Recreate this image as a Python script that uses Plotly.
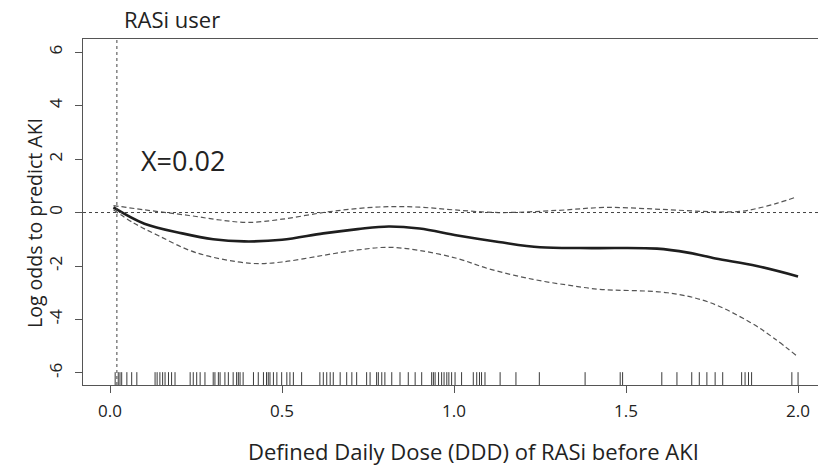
import plotly.graph_objects as go

# ---- data ----
fit_x = [0.01, 0.1, 0.21, 0.3, 0.39, 0.5, 0.62, 0.72, 0.81, 0.9, 1.01, 1.13, 1.25, 1.4, 1.59, 1.68, 1.76, 1.88, 2.0]
fit_y = [0.19, -0.42, -0.78, -1.0, -1.08, -1.02, -0.78, -0.62, -0.52, -0.6, -0.86, -1.1, -1.3, -1.33, -1.35, -1.5, -1.72, -2.0, -2.39]

upper_x = [0.01, 0.1, 0.23, 0.32, 0.4, 0.5, 0.62, 0.72, 0.81, 0.9, 1.0, 1.13, 1.3, 1.44, 1.6, 1.75, 1.83, 1.88, 1.94, 1.99]
upper_y = [0.26, 0.1, -0.11, -0.28, -0.37, -0.25, 0.0, 0.15, 0.22, 0.2, 0.1, 0.0, 0.08, 0.19, 0.12, 0.03, 0.04, 0.15, 0.35, 0.56]

lower_x = [0.01, 0.07, 0.14, 0.25, 0.41, 0.5, 0.62, 0.72, 0.81, 0.9, 1.01, 1.1, 1.23, 1.35, 1.42, 1.62, 1.74, 1.86, 1.93, 2.0]
lower_y = [0.1, -0.4, -0.86, -1.5, -1.9, -1.85, -1.6, -1.4, -1.3, -1.42, -1.72, -2.1, -2.5, -2.75, -2.87, -3.0, -3.35, -4.1, -4.7, -5.4]

rug_x = [0.015, 0.024, 0.029, 0.034, 0.049, 0.063, 0.078, 0.131, 0.137, 0.145, 0.153, 0.160, 0.170,
         0.179, 0.189, 0.233, 0.242, 0.252, 0.262, 0.276, 0.300, 0.305, 0.315, 0.320, 0.334, 0.344,
         0.358, 0.368, 0.373, 0.378, 0.387, 0.417, 0.431, 0.446, 0.455, 0.460, 0.465, 0.475, 0.485,
         0.499, 0.514, 0.523, 0.533, 0.557, 0.610, 0.620, 0.630, 0.640, 0.649, 0.669, 0.688, 0.703,
         0.717, 0.746, 0.756, 0.775, 0.780, 0.790, 0.799, 0.819, 0.843, 0.867, 0.887, 0.906, 0.935,
         0.940, 0.945, 0.955, 0.964, 0.971, 0.979, 0.985, 0.993, 1.003, 1.022, 1.056, 1.066, 1.074,
         1.080, 1.090, 1.134, 1.180, 1.248, 1.381, 1.483, 1.490, 1.604, 1.648, 1.691, 1.713, 1.735,
         1.759, 1.781, 1.836, 1.846, 1.856, 1.865, 1.982, 2.000]

threshold_x = 0.02
x_ticks = [0.0, 0.5, 1.0, 1.5, 2.0]
x_tick_text = ["0.0", "0.5", "1.0", "1.5", "2.0"]
y_ticks = [-6, -4, -2, 0, 2, 4, 6]
y_tick_text = ["-6", "-4", "-2", "0", "2", "4", "6"]

X_RANGE = [-0.0785, 2.058]
Y_RANGE = [-6.45, 6.49]
FONT = "Open Sans"
W, H = 818, 466
ML, MT, MB = 83, 39, 81
PW, PH = W - ML, H - MT - MB

def px_to_paper_x(px):
    return (px - ML) / PW

def px_to_paper_y(py):
    return (H - MB - py) / PH

fig = go.Figure()

# rug
rug_len = 0.48
rx, ry = [], []
for r in rug_x:
    rx += [r, r, None]
    ry += [Y_RANGE[0], Y_RANGE[0] + rug_len, None]
fig.add_trace(go.Scatter(x=rx, y=ry, mode="lines", line=dict(color="#3a3a3a", width=1),
                         hoverinfo="skip", showlegend=False))

# reference lines
fig.add_hline(y=0, line=dict(color="#444", width=1, dash="3px,3px"))
fig.add_vline(x=threshold_x, line=dict(color="#444", width=1, dash="3px,3px"))

# CI bands
for xs, ys in [(upper_x, upper_y), (lower_x, lower_y)]:
    fig.add_trace(go.Scatter(x=xs, y=ys, mode="lines",
                             line=dict(color="#555", width=1.2, dash="5px,3px", shape="spline", smoothing=1.0),
                             showlegend=False))

# fit
fig.add_trace(go.Scatter(x=fit_x, y=fit_y, mode="lines",
                         line=dict(color="#1e1e1e", width=2.6, shape="spline", smoothing=1.0),
                         showlegend=False))

fig.add_annotation(x=0.084, y=1.95, xref="x", yref="y", text="X=0.02", showarrow=False,
                   xanchor="left", yanchor="middle", font=dict(family=FONT, size=27, color="#222"))
fig.add_annotation(x=px_to_paper_x(172), y=px_to_paper_y(19), xref="paper", yref="paper", text="RASi user",
                   showarrow=False, xanchor="center", yanchor="middle",
                   font=dict(family=FONT, size=22, color="#222"))
# axis titles
fig.add_annotation(x=px_to_paper_x(473), y=px_to_paper_y(451), xref="paper", yref="paper",
                   text="Defined Daily Dose (DDD) of RASi before AKI", showarrow=False,
                   xanchor="center", yanchor="middle", font=dict(family=FONT, size=22, color="#222"))
fig.add_annotation(x=px_to_paper_x(35), y=px_to_paper_y(223), xref="paper", yref="paper",
                   text="Log odds to predict AKI", showarrow=False, textangle=-90,
                   xanchor="center", yanchor="middle", font=dict(family=FONT, size=19.5, color="#222"))

fig.update_layout(
    width=W, height=H,
    margin=dict(l=ML, r=0, t=MT, b=MB, autoexpand=False),
    paper_bgcolor="white", plot_bgcolor="white",
    font=dict(family=FONT, color="#222"),
    xaxis=dict(range=X_RANGE, tickvals=x_ticks, ticktext=x_tick_text, showgrid=False, zeroline=False,
               showline=True, mirror=True, linecolor="#555", linewidth=1, automargin=False,
               ticks="outside", ticklen=7, tickcolor="#555", tickfont=dict(size=17, family=FONT),
               ticklabelstandoff=4),
    yaxis=dict(range=Y_RANGE, tickvals=y_ticks, ticktext=y_tick_text, showgrid=False, zeroline=False,
               showline=True, mirror=False, linecolor="#555", linewidth=1, automargin=False,
               ticks="outside", ticklen=7, tickcolor="#555", tickangle=-90,
               tickfont=dict(size=17, family=FONT), ticklabelstandoff=6),
)

fig.write_html("out.html", config={"displayModeBar": False},
               post_script="document.body.style.margin='0';document.body.style.padding='0';")
